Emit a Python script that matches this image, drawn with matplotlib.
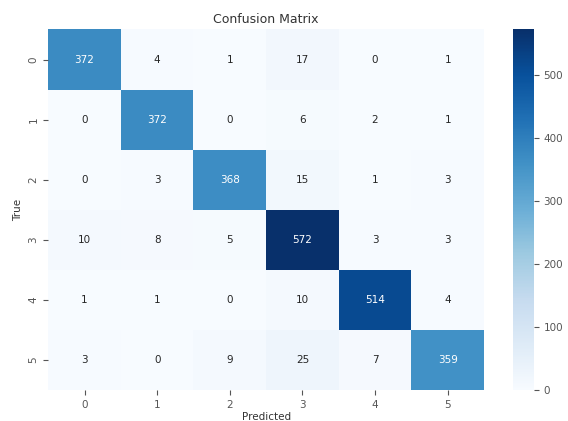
import numpy as np
import matplotlib
matplotlib.use("Agg")
import matplotlib.pyplot as plt
import seaborn as sns

classes = ["0", "1", "2", "3", "4", "5"]
row0 = [372, 4, 1, 17, 0, 1]
row1 = [0, 372, 0, 6, 2, 1]
row2 = [0, 3, 368, 15, 1, 3]
row3 = [10, 8, 5, 572, 3, 3]
row4 = [1, 1, 0, 10, 514, 4]
row5 = [3, 0, 9, 25, 7, 359]

cm = np.array([row0, row1, row2, row3, row4, row5])

fig = plt.figure(figsize=(5.68, 4.21), dpi=100)
ax = fig.add_axes([0.085, 0.074, 0.767, 0.856])
cax = fig.add_axes([0.903, 0.074, 0.037, 0.856])

sns.heatmap(cm, annot=True, fmt="d", cmap="Blues", ax=ax, cbar_ax=cax,
            xticklabels=classes, yticklabels=classes,
            annot_kws={"fontsize": 7.5})

ax.set_title("Confusion Matrix", fontsize=9, color="#333333", pad=5)
ax.set_xlabel("Predicted", fontsize=7.5, color="#333333", labelpad=2)
ax.set_ylabel("True", fontsize=7.5, color="#333333")
ax.tick_params(labelsize=7.5, colors="#555555")
cax.tick_params(labelsize=7.5, colors="#555555")

fig.savefig("out.png", dpi=100)
